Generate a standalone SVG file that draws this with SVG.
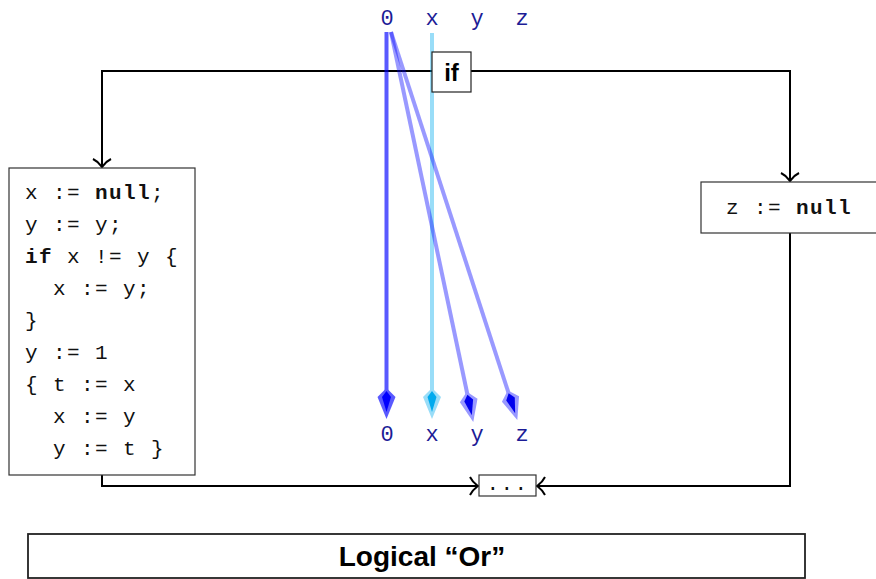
<svg xmlns="http://www.w3.org/2000/svg" width="876" height="579" viewBox="0 0 876 579">
<style>
.code{font-family:"Liberation Mono","DejaVu Sans Mono",monospace;font-size:21px;letter-spacing:1.4px;fill:#111}
.b{font-weight:bold}
.lbl{font-family:"Liberation Mono","DejaVu Sans Mono",monospace;font-size:22px;fill:#1c1c96;text-anchor:middle}
.box{fill:#fff;stroke:#333;stroke-width:1.2}
.flow{fill:none;stroke:#000;stroke-width:2}
.sans{font-family:"Liberation Sans","DejaVu Sans",sans-serif;font-weight:bold;fill:#000;text-anchor:middle}
</style>
<defs>
<marker id="to" markerUnits="userSpaceOnUse" markerWidth="20" markerHeight="24" viewBox="-10 -12 14 24" refX="0" refY="0" orient="auto" overflow="visible">
<path d="M-8,-9 C-5,-3 -1,-1 0,0 C-1,1 -5,3 -8,9" fill="none" stroke="#000" stroke-width="2"/>
</marker>
<marker id="kb" markerUnits="userSpaceOnUse" markerWidth="40" markerHeight="24" viewBox="-12 -12 40 24" refX="0" refY="0" orient="auto" overflow="visible">
<path d="M-9,0 L0,-9 L22,0 L0,9 Z" fill="#5959ff"/>
<path d="M-6,0 L0,-4.5 L15,0 L0,4.5 Z" fill="#0000ff"/>
</marker>
<marker id="kl" markerUnits="userSpaceOnUse" markerWidth="40" markerHeight="24" viewBox="-12 -12 40 24" refX="0" refY="0" orient="auto" overflow="visible">
<path d="M-9,0 L0,-9 L22,0 L0,9 Z" fill="#99ddf8"/>
<path d="M-6,0 L0,-4.5 L15,0 L0,4.5 Z" fill="#00aaee"/>
</marker>
<marker id="kp" markerUnits="userSpaceOnUse" markerWidth="40" markerHeight="24" viewBox="-12 -12 40 24" refX="0" refY="0" orient="auto" overflow="visible">
<path d="M-9,0 L0,-9 L22,0 L0,9 Z" fill="#9999ff"/>
<path d="M-6,0 L0,-4.5 L15,0 L0,4.5 Z" fill="#0000ee"/>
</marker>
</defs>

<g id="connectors">
<path class="flow" d="M451,71 H102 V167" marker-end="url(#to)"/>
<path class="flow" d="M451,71 H790 V181" marker-end="url(#to)"/>
<path class="flow" d="M102,475 V486 H478" marker-end="url(#to)"/>
<path class="flow" d="M790,233 V486 H537" marker-end="url(#to)"/>
</g>

<g id="variables">
<text class="lbl" x="387" y="25">0</text>
<text class="lbl" x="432" y="25">x</text>
<text class="lbl" x="477" y="25">y</text>
<text class="lbl" x="522" y="25">z</text>
<text class="lbl" x="387" y="441">0</text>
<text class="lbl" x="432" y="441">x</text>
<text class="lbl" x="477" y="441">y</text>
<text class="lbl" x="522" y="441">z</text>
<line x1="432" y1="33" x2="432" y2="397" stroke="#00aaee" stroke-opacity="0.4" stroke-width="4" marker-end="url(#kl)"/>
<line x1="391" y1="32" x2="468.7" y2="400.5" stroke="#0000ff" stroke-opacity="0.4" stroke-width="4" marker-end="url(#kp)"/>
<line x1="391" y1="32" x2="510.5" y2="399" stroke="#0000ff" stroke-opacity="0.4" stroke-width="4" marker-end="url(#kp)"/>
<line x1="386.5" y1="32" x2="386.5" y2="397" stroke="#0000ff" stroke-opacity="0.65" stroke-width="4" marker-end="url(#kb)"/>
</g>

<g id="if">
<rect x="432" y="52" width="39" height="40" fill="#fff" stroke="#222" stroke-width="1.2"/>
<text class="sans" x="451.5" y="81" font-size="24">if</text>
</g>

<g id="left">
<rect class="box" x="9" y="168" width="186" height="307"/>
<text class="code" x="25" y="199">x := <tspan class="b">null</tspan>;</text>
<text class="code" x="25" y="231">y := y;</text>
<text class="code" x="25" y="263"><tspan class="b">if</tspan> x != y {</text>
<text class="code" x="53" y="295">x := y;</text>
<text class="code" x="25" y="327">}</text>
<text class="code" x="25" y="359">y := 1</text>
<text class="code" x="25" y="391">{ t := x</text>
<text class="code" x="53" y="423">x := y</text>
<text class="code" x="53" y="455">y := t }</text>
</g>

<g id="right">
<rect class="box" x="701" y="182" width="180" height="51"/>
<text class="code" x="726" y="214">z := <tspan class="b">null</tspan></text>
</g>

<g id="join">
<rect class="box" x="479" y="475" width="57" height="21"/>
<text class="code" x="507.5" y="490" text-anchor="middle" font-size="16">...</text>
</g>

<g id="title">
<rect x="28" y="534" width="777" height="44" fill="#fff" stroke="#222" stroke-width="1.8"/>
<text class="sans" x="422" y="566" font-size="28">Logical “Or”</text>
</g>
</svg>
